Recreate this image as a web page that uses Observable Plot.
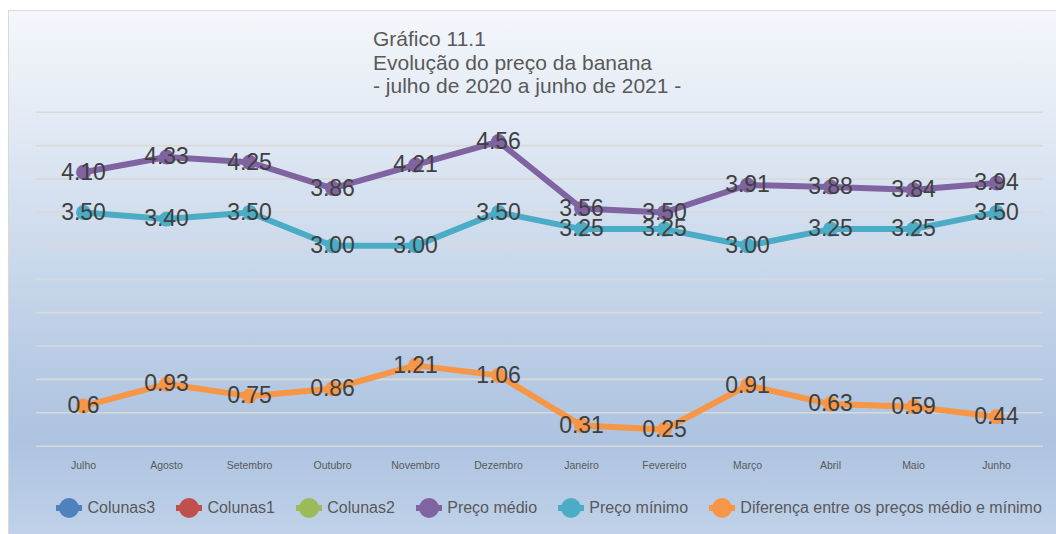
<!DOCTYPE html>
<html>
<head>
<meta charset="utf-8">
<script src="https://cdn.jsdelivr.net/npm/d3@7"></script>
<script src="https://cdn.jsdelivr.net/npm/@observablehq/plot@0.6"></script>
<style>
  html, body { margin: 0; padding: 0; background: #ffffff; overflow: hidden; }
  body { width: 1056px; height: 534px; position: relative; font-family: "Liberation Sans", Arial, sans-serif; }
  #frame {
    position: absolute; left: 8px; top: 10px; width: 1060px; height: 540px;
    border: 1.5px solid #d9d9d9; box-sizing: border-box;
    background: linear-gradient(to bottom, #f4f7fb 0%, #e4ebf5 19%, #ccdaec 44%, #b5c9e3 69%, #adc3e0 80%, #c3d4ea 100%);
  }
  #chart { position: absolute; left: 0; top: 0; }
  #title {
    position: absolute; left: 373px; top: 27px; font-size: 21px; line-height: 23.5px; color: #595959;
  }
  #legend {
    position: absolute; left: 55px; top: 497px; display: flex; align-items: center;
    font-size: 16px; color: #595959; white-space: nowrap;
  }
  .item { display: flex; align-items: center; margin-right: 19.8px; }
  .item svg { margin-right: 4.5px; }
</style>
</head>
<body>
<div id="frame"></div>
<div id="chart"></div>
<div id="title">Gráfico 11.1<br>Evolução do preço da banana<br>- julho de 2020 a junho de 2021 -</div>
<div id="legend"></div>
<script>
const months = ["Julho","Agosto","Setembro","Outubro","Novembro","Dezembro","Janeiro","Fevereiro","Março","Abril","Maio","Junho"];
const precoMedio = [4.10, 4.33, 4.25, 3.86, 4.21, 4.56, 3.56, 3.50, 3.91, 3.88, 3.84, 3.94];
const precoMinimo = [3.50, 3.40, 3.50, 3.00, 3.00, 3.50, 3.25, 3.25, 3.00, 3.25, 3.25, 3.50];
const diferenca = [0.6, 0.93, 0.75, 0.86, 1.21, 1.06, 0.31, 0.25, 0.91, 0.63, 0.59, 0.44];
const seriesNames = ["Colunas3", "Colunas1", "Colunas2", "Preço médio", "Preço mínimo", "Diferença entre os preços médio e mínimo"];
const seriesColors = ["#4f81bd", "#c0504d", "#9bbb59", "#8064a2", "#4bacc6", "#f79646"];
const gridTicks = d3.range(0, 5.01, 0.5);

const lines = [
  {name: "Preço médio", color: "#8064a2", values: precoMedio, fmt: v => v.toFixed(2)},
  {name: "Preço mínimo", color: "#4bacc6", values: precoMinimo, fmt: v => v.toFixed(2)},
  {name: "Diferença entre os preços médio e mínimo", color: "#f79646", values: diferenca, fmt: v => String(v)}
];
const rows = lines.flatMap(s => s.values.map((v, i) => ({series: s.name, color: s.color, month: months[i], value: v, label: s.fmt(v)})));

const marks = [
  Plot.ruleY(gridTicks, {stroke: "#d9d9d9", strokeWidth: 1.6})
];
for (const s of lines) {
  const data = rows.filter(r => r.series === s.name);
  marks.push(Plot.line(data, {x: "month", y: "value", stroke: s.color, strokeWidth: 6, strokeLinejoin: "round", strokeLinecap: "round"}));
  marks.push(Plot.dot(data, {x: "month", y: "value", fill: s.color, r: 7.5, stroke: "none"}));
}
marks.push(Plot.text(rows, {x: "month", y: "value", text: "label", fontSize: 23, fill: "#404040", fontFamily: "Liberation Sans, Arial, sans-serif"}));
marks.push(Plot.axisX({tickSize: 0, tickPadding: 15, fontSize: 10.5, fill: "#595959", label: null}));

const chart = Plot.plot({
  width: 1056,
  height: 534,
  marginLeft: 36,
  marginRight: 13,
  marginTop: 111.7,
  marginBottom: 88.3,
  style: {background: "transparent", fontFamily: "Liberation Sans, Arial, sans-serif", color: "#595959"},
  x: {type: "point", domain: months, padding: 0.5},
  y: {domain: [0, 5], axis: null},
  marks
});
document.getElementById("chart").appendChild(chart);

const legend = document.getElementById("legend");
seriesNames.forEach((name, i) => {
  const item = document.createElement("div");
  item.className = "item";
  if (i === seriesNames.length - 1) item.style.marginRight = "0";
  item.innerHTML = `<svg width="28" height="22" viewBox="0 0 28 22"><line x1="1" y1="11" x2="27" y2="11" stroke="${seriesColors[i]}" stroke-width="6"/><circle cx="14" cy="11" r="10" fill="${seriesColors[i]}"/></svg><span>${name}</span>`;
  legend.appendChild(item);
});
</script>
</body>
</html>
